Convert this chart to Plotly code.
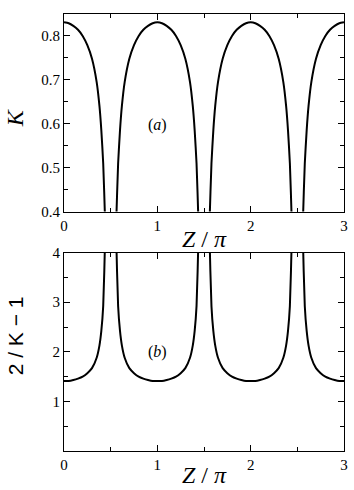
import plotly.graph_objects as go
from plotly.subplots import make_subplots

# Z / pi sample positions (None = break where the curve leaves the frame)
z = [0.00, 0.05, 0.10, 0.15, 0.20, 0.25, 0.30, 0.35, 0.38, 0.40, 0.42, 0.44, 0.46, None,
     0.54, 0.56, 0.58, 0.60, 0.62, 0.65, 0.70, 0.75, 0.80, 0.85, 0.90, 0.95, 1.00,
     1.05, 1.10, 1.15, 1.20, 1.25, 1.30, 1.35, 1.38, 1.40, 1.42, 1.44, 1.46, None,
     1.54, 1.56, 1.58, 1.60, 1.62, 1.65, 1.70, 1.75, 1.80, 1.85, 1.90, 1.95, 2.00,
     2.05, 2.10, 2.15, 2.20, 2.25, 2.30, 2.35, 2.38, 2.40, 2.42, 2.44, 2.46, None,
     2.54, 2.56, 2.58, 2.60, 2.62, 2.65, 2.70, 2.75, 2.80, 2.85, 2.90, 2.95, 3.00]

# panel (a): K
k_vals = [0.831, 0.829, 0.823, 0.814, 0.800, 0.779, 0.748, 0.695, 0.640, 0.585, 0.510, 0.380, 0.200, None,
          0.200, 0.380, 0.510, 0.585, 0.640, 0.695, 0.748, 0.779, 0.800, 0.814, 0.823, 0.829, 0.831,
          0.829, 0.823, 0.814, 0.800, 0.779, 0.748, 0.695, 0.640, 0.585, 0.510, 0.380, 0.200, None,
          0.200, 0.380, 0.510, 0.585, 0.640, 0.695, 0.748, 0.779, 0.800, 0.814, 0.823, 0.829, 0.831,
          0.829, 0.823, 0.814, 0.800, 0.779, 0.748, 0.695, 0.640, 0.585, 0.510, 0.380, 0.200, None,
          0.200, 0.380, 0.510, 0.585, 0.640, 0.695, 0.748, 0.779, 0.800, 0.814, 0.823, 0.829, 0.831]

# panel (b): 2/K - 1
b_vals = [1.41, 1.41, 1.43, 1.46, 1.50, 1.57, 1.67, 1.88, 2.13, 2.42, 2.92, 4.26, 8.00, None,
          8.00, 4.26, 2.92, 2.42, 2.13, 1.88, 1.67, 1.57, 1.50, 1.46, 1.43, 1.41, 1.41,
          1.41, 1.43, 1.46, 1.50, 1.57, 1.67, 1.88, 2.13, 2.42, 2.92, 4.26, 8.00, None,
          8.00, 4.26, 2.92, 2.42, 2.13, 1.88, 1.67, 1.57, 1.50, 1.46, 1.43, 1.41, 1.41,
          1.41, 1.43, 1.46, 1.50, 1.57, 1.67, 1.88, 2.13, 2.42, 2.92, 4.26, 8.00, None,
          8.00, 4.26, 2.92, 2.42, 2.13, 1.88, 1.67, 1.57, 1.50, 1.46, 1.43, 1.41, 1.41]

x_ticks = [0, 1, 2, 3]
ya_ticks = [0.4, 0.5, 0.6, 0.7, 0.8]
yb_ticks = [1, 2, 3, 4]

serif = "Liberation Serif, Times New Roman, serif"
line = dict(color="black", width=2, shape="spline", smoothing=0.5)

fig = make_subplots(rows=2, cols=1, vertical_spacing=0.094)
fig.add_trace(go.Scatter(x=z, y=k_vals, mode="lines", line=line, connectgaps=False), row=1, col=1)
fig.add_trace(go.Scatter(x=z, y=b_vals, mode="lines", line=line, connectgaps=False), row=2, col=1)

axis_style = dict(showline=True, linecolor="black", linewidth=1, mirror="ticks",
                  ticks="inside", ticklen=6, tickcolor="black", showgrid=False,
                  zeroline=False, ticklabeloverflow="allow",
                  tickfont=dict(family=serif, size=15, color="black"))

fig.update_xaxes(range=[0, 3], tickvals=x_ticks, minor=dict(dtick=0.5, ticks="inside", ticklen=4, tickcolor="black"),
                 **axis_style)
fig.update_yaxes(axis_style)
fig.update_yaxes(range=[0.4, 0.85], tickvals=ya_ticks, ticktext=["0.4", "0.5", "0.6", "0.7", "0.8"],
                 minor=dict(dtick=0.05, ticks="inside", ticklen=4, tickcolor="black"), row=1, col=1)
fig.update_yaxes(range=[0, 4], tickvals=yb_ticks,
                 minor=dict(dtick=0.5, ticks="inside", ticklen=4, tickcolor="black"), row=2, col=1)
fig.update_yaxes(domain=[0.548, 1.0], row=1, col=1)
fig.update_yaxes(domain=[0.0, 0.454], row=2, col=1)

annos = [
    dict(x=0.5, y=0.485, text="<i>Z</i> / <i>π</i>", font=dict(family=serif, size=24)),
    dict(x=0.5, y=-0.054, text="<i>Z</i> / <i>π</i>", font=dict(family=serif, size=24)),
    dict(x=-0.174, y=0.762, text="<i>K</i>", textangle=-90, font=dict(family=serif, size=24)),
    dict(x=-0.174, y=0.263, text="2 / K − 1", textangle=-90, font=dict(family="Liberation Sans", size=21)),
    dict(x=0.333, y=0.745, text="(<i>a</i>)", font=dict(family=serif, size=16)),
    dict(x=0.333, y=0.227, text="(<i>b</i>)", font=dict(family=serif, size=16)),
]
for a in annos:
    fig.add_annotation(xref="paper", yref="paper", showarrow=False, xanchor="center", yanchor="middle",
                       font_color="black", **a)

fig.update_layout(width=354, height=490, margin=dict(l=64, r=8, t=6, b=39),
                  plot_bgcolor="white", paper_bgcolor="white", showlegend=False)

# page has a default body margin; drop it so the figure sits at the window's corner
fig.write_html("out.html", config={"displayModeBar": False},
               post_script="document.body.style.margin='0';")
